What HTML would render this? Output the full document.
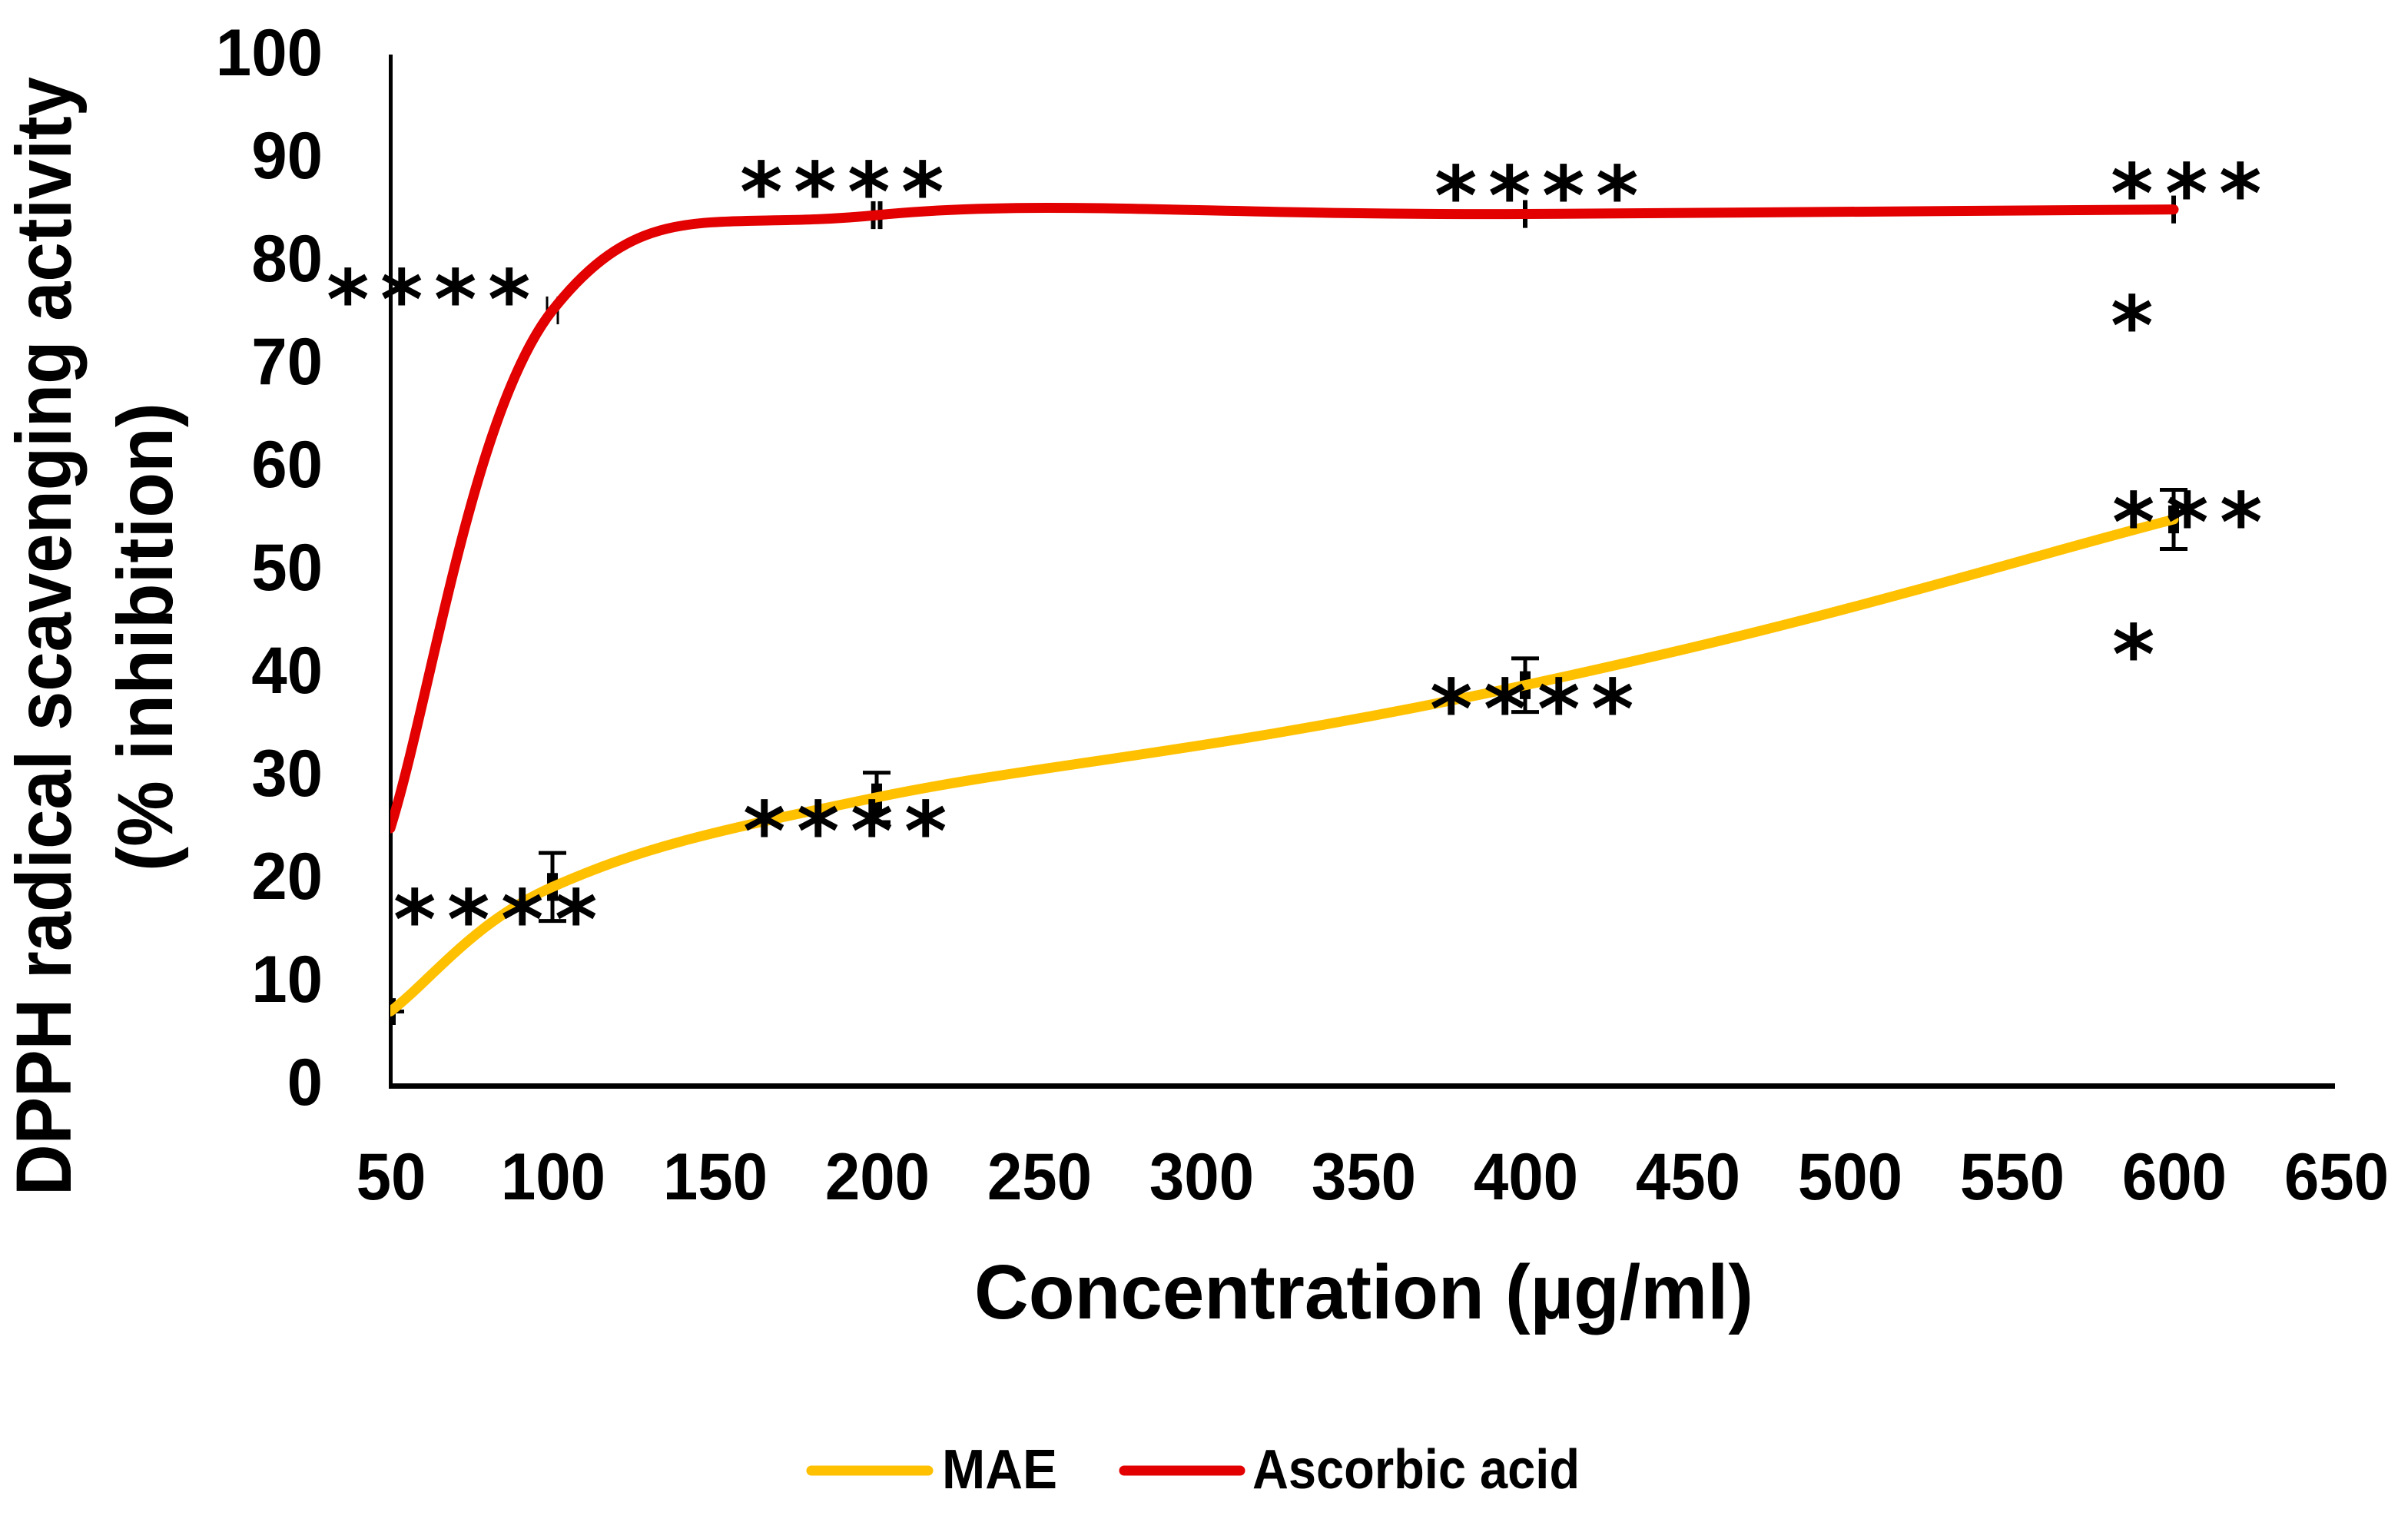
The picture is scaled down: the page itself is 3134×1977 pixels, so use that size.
<!DOCTYPE html>
<html>
<head>
<meta charset="utf-8">
<title>DPPH radical scavenging activity</title>
<style>
html,body{margin:0;padding:0;background:#fff;width:3134px;height:1977px;overflow:hidden}
svg{display:block}
text{font-family:"Liberation Sans",sans-serif;font-weight:700;fill:#000}
.star{font-family:"DejaVu Sans",sans-serif;font-weight:700;font-size:106px}
</style>
</head>
<body>
<svg id="chart" xmlns="http://www.w3.org/2000/svg" width="3134" height="1977" viewBox="0 0 3134 1977">
  <rect x="0" y="0" width="3134" height="1977" fill="#fff"/>
  <defs><clipPath id="plot-clip"><rect x="508" y="0" width="2626" height="1977"/></clipPath></defs>

  <g id="tick-layer"></g>
  <rect x="506" y="71" width="5" height="1346" fill="#000"/>
  <rect x="506" y="1410" width="2533" height="7" fill="#000"/>

  <g id="error-layer" clip-path="url(#plot-clip)"></g>
  <g id="line-layer" clip-path="url(#plot-clip)"></g>

  <g>
    <text class="star" x="425 495 565 635" y="427">****</text>
    <text class="star" x="963 1033 1103 1173" y="287">****</text>
    <text class="star" x="1867 1937 2007 2077" y="292">****</text>
    <text class="star" x="2747 2818 2888" y="289">***</text>
    <text class="star" x="2747" y="461">*</text>
    <text class="star" x="512 582 652 722" y="1234">****</text>
    <text class="star" x="967 1037 1107 1177" y="1119">****</text>
    <text class="star" x="1861 1931 2001 2071" y="960">****</text>
    <text class="star" x="2749 2819 2889" y="717">***</text>
    <text class="star" x="2749" y="889">*</text>
  </g>

  <text transform="translate(92,1556) rotate(-90)" font-size="102" textLength="1456" lengthAdjust="spacingAndGlyphs">DPPH radical scavenging activity</text>
  <text transform="translate(224,1134) rotate(-90)" font-size="102" textLength="610" lengthAdjust="spacingAndGlyphs">(% inhibition)</text>
  <text x="1268" y="1716" font-size="100" textLength="1014" lengthAdjust="spacingAndGlyphs">Concentration (µg/ml)</text>

  <g>
    <line x1="1056" y1="1914" x2="1208" y2="1914" stroke="#FFC000" stroke-width="13" stroke-linecap="round"/>
    <text x="1226" y="1937" font-size="72" textLength="150" lengthAdjust="spacingAndGlyphs">MAE</text>
    <line x1="1463" y1="1914" x2="1614" y2="1914" stroke="#E20000" stroke-width="13" stroke-linecap="round"/>
    <text x="1630" y="1937" font-size="72" textLength="426" lengthAdjust="spacingAndGlyphs">Ascorbic acid</text>
  </g>
</svg>
<script>
const concentrations = [50, 100, 200, 400, 600];
const maeValues = [7.2, 19.3, 28, 38.9, 55];
const ascorbicValues = [25, 75.3, 84.55, 84.66, 85.1];
const maeOuterError = [0, 3.3, 2.4, 2.6, 2.87];
const maeInnerError = [1.3, 1.35, 1.35, 1.35, 1.35];
const ascorbicError = [0, 1.35, 1.35, 1.35, 1.35];
const xTickLabels = [50, 100, 150, 200, 250, 300, 350, 400, 450, 500, 550, 600, 650];
const yTickLabels = [0, 10, 20, 30, 40, 50, 60, 70, 80, 90, 100];

const SVGNS = 'http://www.w3.org/2000/svg';
const xScale = v => 508 + (v - 50) * 4.22;
const yScale = v => 1413 - v * 13.4;

function make(tag, attrs, parent) {
  const el = document.createElementNS(SVGNS, tag);
  for (const k in attrs) el.setAttribute(k, attrs[k]);
  parent.appendChild(el);
  return el;
}

function dist(a, b) { return Math.hypot(a[0] - b[0], a[1] - b[1]); }

function smoothPath(pts) {
  const n = pts.length;
  const outC = [], inC = [];
  for (let i = 1; i < n - 1; i++) {
    const tx = pts[i + 1][0] - pts[i - 1][0], ty = pts[i + 1][1] - pts[i - 1][1];
    const dp = dist(pts[i], pts[i - 1]), dn = dist(pts[i], pts[i + 1]);
    const f = 0.5 * Math.min(dp, dn) / (dp + dn);
    const g = i === 1 ? f * 0.85 : f;
    outC[i] = [pts[i][0] + tx * f, pts[i][1] + ty * f];
    inC[i] = [pts[i][0] - tx * g, pts[i][1] - ty * g];
  }
  outC[0] = [pts[0][0] + (pts[1][0] - pts[0][0]) * 0.25, pts[0][1] + (pts[1][1] - pts[0][1]) * 0.25];
  inC[n - 1] = [pts[n - 1][0] - (pts[n - 1][0] - pts[n - 2][0]) * 0.25, pts[n - 1][1] - (pts[n - 1][1] - pts[n - 2][1]) * 0.25];
  let d = 'M' + pts[0][0] + ' ' + pts[0][1];
  for (let i = 0; i < n - 1; i++) {
    d += ' C' + outC[i][0] + ' ' + outC[i][1] + ' ' + inC[i + 1][0] + ' ' + inC[i + 1][1] + ' ' + pts[i + 1][0] + ' ' + pts[i + 1][1];
  }
  return d;
}

const tickLayer = document.getElementById('tick-layer');
xTickLabels.forEach(v => {
  const t = make('text', {x: xScale(v) + 1, y: 1561, 'font-size': 86, 'text-anchor': 'middle', textLength: String(v).length * 45.4, lengthAdjust: 'spacingAndGlyphs'}, tickLayer);
  t.textContent = v;
  
  
});
yTickLabels.forEach(v => {
  const t = make('text', {x: 420, y: yScale(v) + 25, 'font-size': 86, 'text-anchor': 'end', textLength: String(v).length * 46.4, lengthAdjust: 'spacingAndGlyphs'}, tickLayer);
  t.textContent = v;
  
  
});

const errorLayer = document.getElementById('error-layer');
concentrations.forEach((c, i) => {
  const cx = xScale(c);
  const hi = yScale(maeValues[i] + maeOuterError[i]), lo = yScale(maeValues[i] - maeOuterError[i]);
  const stem = make('line', {x1: cx, x2: cx, y1: hi, y2: lo, stroke: '#000', 'stroke-width': 5}, errorLayer);
  
  
  const capTop = make('line', {x1: cx - 18, x2: cx + 18, y1: hi, y2: hi, stroke: '#000', 'stroke-width': 5}, errorLayer);
  
  
  const capBottom = make('line', {x1: cx - 18, x2: cx + 18, y1: lo, y2: lo, stroke: '#000', 'stroke-width': 5}, errorLayer);
  
  
  const inner = make('line', {x1: cx, x2: cx, y1: yScale(maeValues[i] + maeInnerError[i]), y2: yScale(maeValues[i] - maeInnerError[i]), stroke: '#000', 'stroke-width': 14}, errorLayer);
  
  
  if (ascorbicError[i] > 0) {
    const rTop = yScale(ascorbicValues[i] + ascorbicError[i]), rBottom = yScale(ascorbicValues[i] - ascorbicError[i]);
    const gap = i === 1 ? 7 : i === 2 ? 4.5 : 0;
    const w = i === 1 ? 3 : 6;
    const tickA = make('line', {x1: cx - gap, x2: cx - gap, y1: rTop, y2: rBottom, stroke: '#000', 'stroke-width': w}, errorLayer);
    
    
    if (gap > 0) {
      const tickB = make('line', {x1: cx + gap, x2: cx + gap, y1: rTop, y2: rBottom, stroke: '#000', 'stroke-width': w}, errorLayer);
      
      
    }
  }
});

const lineLayer = document.getElementById('line-layer');
const maeLine = make('path', {d: smoothPath(concentrations.map((c, i) => [xScale(c), yScale(maeValues[i])])), fill: 'none', stroke: '#FFC000', 'stroke-width': 13, 'stroke-linecap': 'round'}, lineLayer);


const ascorbicLine = make('path', {d: smoothPath(concentrations.map((c, i) => [xScale(c), yScale(ascorbicValues[i])])), fill: 'none', stroke: '#E20000', 'stroke-width': 13, 'stroke-linecap': 'round'}, lineLayer);


</script>
</body>
</html>
